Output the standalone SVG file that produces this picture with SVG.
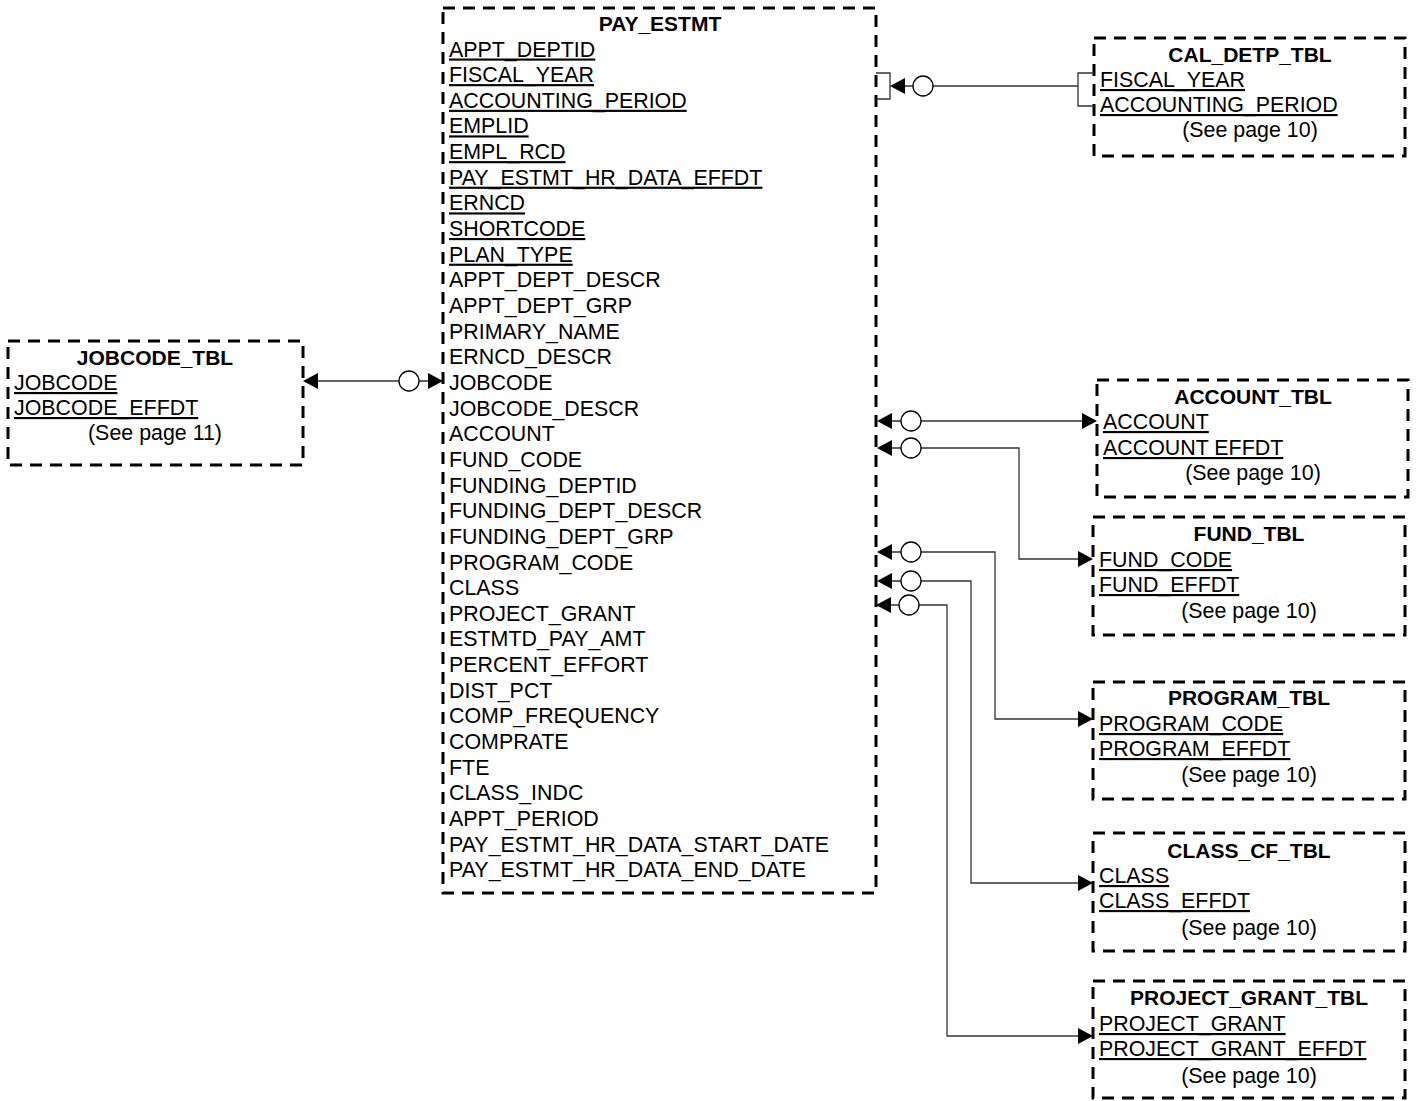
<svg xmlns="http://www.w3.org/2000/svg" width="1416" height="1101" viewBox="0 0 1416 1101">
<style>
.box{fill:#fff;stroke:#000;stroke-width:3;stroke-dasharray:12 8}
.t{font-family:"Liberation Sans",Arial,sans-serif;font-size:21.4px;fill:#000}
.b{font-weight:bold;text-anchor:middle;font-size:21px}
.u{text-decoration:underline}
.c{text-anchor:middle}
.ln{fill:none;stroke:#333;stroke-width:1.3}
.ci{fill:#fff;stroke:#000;stroke-width:1.3}
.ah{fill:#000}
</style>
<rect width="1416" height="1101" fill="#fff"/>
<g id="PAY_ESTMT">
<rect class="box" x="443" y="8" width="433" height="885"/>
<text class="t b" x="660" y="31">PAY_ESTMT</text>
<text class="t u" x="449" y="56.5">APPT_DEPTID</text>
<text class="t u" x="449" y="82.1">FISCAL_YEAR</text>
<text class="t u" x="449" y="107.8">ACCOUNTING_PERIOD</text>
<text class="t u" x="449" y="133.4">EMPLID</text>
<text class="t u" x="449" y="159.1">EMPL_RCD</text>
<text class="t u" x="449" y="184.7">PAY_ESTMT_HR_DATA_EFFDT</text>
<text class="t u" x="449" y="210.4">ERNCD</text>
<text class="t u" x="449" y="236">SHORTCODE</text>
<text class="t u" x="449" y="261.7">PLAN_TYPE</text>
<text class="t" x="449" y="287.3">APPT_DEPT_DESCR</text>
<text class="t" x="449" y="313">APPT_DEPT_GRP</text>
<text class="t" x="449" y="338.6">PRIMARY_NAME</text>
<text class="t" x="449" y="364.3">ERNCD_DESCR</text>
<text class="t" x="449" y="389.9">JOBCODE</text>
<text class="t" x="449" y="415.6">JOBCODE_DESCR</text>
<text class="t" x="449" y="441.2">ACCOUNT</text>
<text class="t" x="449" y="466.9">FUND_CODE</text>
<text class="t" x="449" y="492.5">FUNDING_DEPTID</text>
<text class="t" x="449" y="518.2">FUNDING_DEPT_DESCR</text>
<text class="t" x="449" y="543.8">FUNDING_DEPT_GRP</text>
<text class="t" x="449" y="569.5">PROGRAM_CODE</text>
<text class="t" x="449" y="595.1">CLASS</text>
<text class="t" x="449" y="620.8">PROJECT_GRANT</text>
<text class="t" x="449" y="646.4">ESTMTD_PAY_AMT</text>
<text class="t" x="449" y="672.1">PERCENT_EFFORT</text>
<text class="t" x="449" y="697.7">DIST_PCT</text>
<text class="t" x="449" y="723.4">COMP_FREQUENCY</text>
<text class="t" x="449" y="749">COMPRATE</text>
<text class="t" x="449" y="774.7">FTE</text>
<text class="t" x="449" y="800.3">CLASS_INDC</text>
<text class="t" x="449" y="826">APPT_PERIOD</text>
<text class="t" x="449" y="851.6">PAY_ESTMT_HR_DATA_START_DATE</text>
<text class="t" x="449" y="877.3">PAY_ESTMT_HR_DATA_END_DATE</text>
</g>
<g id="CAL_DETP_TBL">
<rect class="box" x="1094" y="38" width="311" height="118"/>
<text class="t b" x="1250" y="62">CAL_DETP_TBL</text>
<text class="t u" x="1100" y="87">FISCAL_YEAR</text>
<text class="t u" x="1100" y="112">ACCOUNTING_PERIOD</text>
<text class="t c" x="1250" y="137">(See page 10)</text>
</g>
<g id="JOBCODE_TBL">
<rect class="box" x="8" y="341" width="295" height="124"/>
<text class="t b" x="155" y="365">JOBCODE_TBL</text>
<text class="t u" x="14" y="390">JOBCODE</text>
<text class="t u" x="14" y="415">JOBCODE_EFFDT</text>
<text class="t c" x="155" y="440">(See page 11)</text>
</g>
<g id="ACCOUNT_TBL">
<rect class="box" x="1097" y="380" width="311" height="117"/>
<text class="t b" x="1253" y="404">ACCOUNT_TBL</text>
<text class="t u" x="1103" y="429">ACCOUNT</text>
<text class="t u" x="1103" y="455">ACCOUNT EFFDT</text>
<text class="t c" x="1253" y="480">(See page 10)</text>
</g>
<g id="FUND_TBL">
<rect class="box" x="1093" y="517" width="312" height="118"/>
<text class="t b" x="1249" y="541">FUND_TBL</text>
<text class="t u" x="1099" y="567">FUND_CODE</text>
<text class="t u" x="1099" y="592">FUND_EFFDT</text>
<text class="t c" x="1249" y="618">(See page 10)</text>
</g>
<g id="PROGRAM_TBL">
<rect class="box" x="1093" y="682" width="312" height="117"/>
<text class="t b" x="1249" y="705">PROGRAM_TBL</text>
<text class="t u" x="1099" y="731">PROGRAM_CODE</text>
<text class="t u" x="1099" y="756">PROGRAM_EFFDT</text>
<text class="t c" x="1249" y="782">(See page 10)</text>
</g>
<g id="CLASS_CF_TBL">
<rect class="box" x="1093" y="833" width="312" height="118"/>
<text class="t b" x="1249" y="858">CLASS_CF_TBL</text>
<text class="t u" x="1099" y="883">CLASS</text>
<text class="t u" x="1099" y="908">CLASS_EFFDT</text>
<text class="t c" x="1249" y="935">(See page 10)</text>
</g>
<g id="PROJECT_GRANT_TBL">
<rect class="box" x="1093" y="981" width="312" height="117"/>
<text class="t b" x="1249" y="1005">PROJECT_GRANT_TBL</text>
<text class="t u" x="1099" y="1031">PROJECT_GRANT</text>
<text class="t u" x="1099" y="1056">PROJECT_GRANT_EFFDT</text>
<text class="t c" x="1249" y="1083">(See page 10)</text>
</g>
<g id="connectors">
<path class="ln" d="M876,73 H890 V99 H876"/>
<path class="ln" d="M1094,73 H1078 V106 H1094"/>
<path class="ln" d="M905,86 H913 M933,86 H1078"/>
<circle class="ci" cx="923" cy="86" r="10"/>
<polygon class="ah" points="890,86 905,78 905,94"/>
<path class="ln" d="M317,381 H399 M419,381 H429"/>
<circle class="ci" cx="409" cy="381" r="10"/>
<polygon class="ah" points="303,381 318,373 318,389"/>
<polygon class="ah" points="443,381 428,373 428,389"/>
<path class="ln" d="M891,421 H901 M921,421 H1083"/>
<circle class="ci" cx="911" cy="421" r="10"/>
<polygon class="ah" points="877,421 892,413 892,429"/>
<polygon class="ah" points="1097,421 1082,413 1082,429"/>
<path class="ln" d="M891,448 H901 M921,448 H1019 V559 H1079"/>
<circle class="ci" cx="911" cy="448" r="10"/>
<polygon class="ah" points="877,448 892,440 892,456"/>
<polygon class="ah" points="1093,559 1078,551 1078,567"/>
<path class="ln" d="M891,552 H901 M921,552 H995 V719 H1079"/>
<circle class="ci" cx="911" cy="552" r="10"/>
<polygon class="ah" points="877,552 892,544 892,560"/>
<polygon class="ah" points="1093,719 1078,711 1078,727"/>
<path class="ln" d="M891,581 H901 M921,581 H971 V883 H1079"/>
<circle class="ci" cx="911" cy="581" r="10"/>
<polygon class="ah" points="877,581 892,573 892,589"/>
<polygon class="ah" points="1093,883 1078,875 1078,891"/>
<path class="ln" d="M890,605 H899 M919,605 H947 V1036 H1079"/>
<circle class="ci" cx="909" cy="605" r="10"/>
<polygon class="ah" points="876,605 891,597 891,613"/>
<polygon class="ah" points="1093,1036 1078,1028 1078,1044"/>
</g>
</svg>
